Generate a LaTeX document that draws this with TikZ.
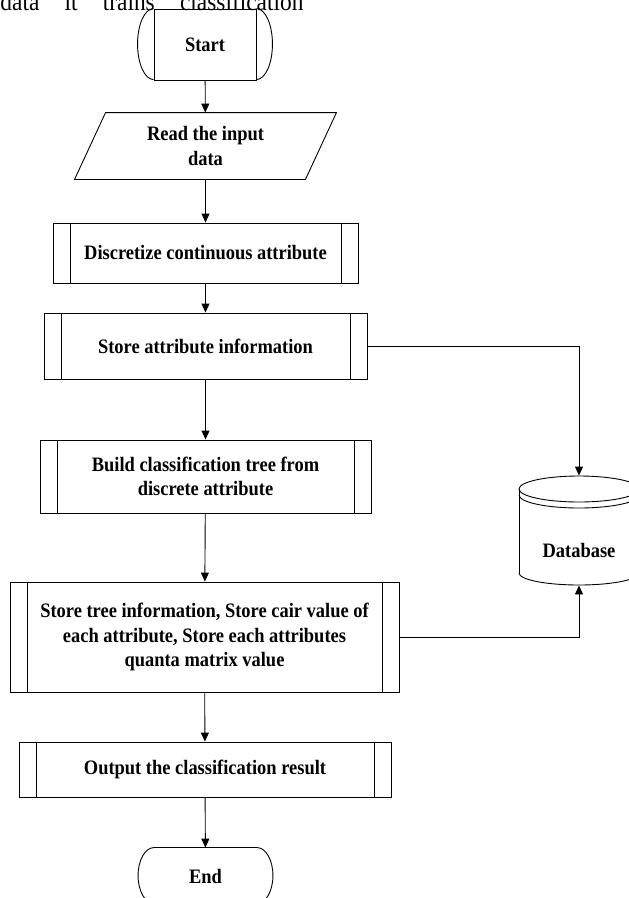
\documentclass[tikz,border=0pt]{standalone}
\usepackage{fontspec}
\setmainfont{Liberation Serif}[FakeStretch=0.9]
\usetikzlibrary{arrows.meta}

\begin{document}
\begin{tikzpicture}[x=1pt, y=-1pt, line width=0.9pt,
		every node/.style={font=\fontsize{20.5}{24.5}\selectfont\bfseries, align=center, inner sep=0pt},
		procbox/.style={draw, rectangle, path picture={
				\draw ([xshift=17pt]path picture bounding box.north west) -- ([xshift=17pt]path picture bounding box.south west);
				\draw ([xshift=-17pt]path picture bounding box.north east) -- ([xshift=-17pt]path picture bounding box.south east);}},
		term/.style={rectangle, minimum width=102pt, minimum height=71pt},
		arr/.style={-{Triangle[length=9pt,width=8pt]}}]
		\useasboundingbox (0,0) rectangle (629,898);
		\clip (0,0) rectangle (629,898);

		% line of text cut off above the chart
		\node[anchor=base west, font=\fontsize{26}{26}\selectfont] (caption) at (0,10.5) {\makebox[303pt][s]{data it trains classification}};

		\node[term, draw] (start) at (205,44.5) {Start};
		\node[minimum width=230pt, minimum height=66pt] (read) at (205.5,146) {Read the input\\data};
		\node[procbox, minimum width=305pt, minimum height=60pt] (disc) at (205.5,253) {Discretize continuous attribute};
		\node[procbox, minimum width=323pt, minimum height=66pt] (storeattr) at (205.5,346) {Store attribute information};
		\node[procbox, minimum width=331pt, minimum height=73pt] (build) at (205.5,476.5) {Build classification tree from\\discrete attribute};
		\node[procbox, minimum width=389pt, minimum height=110pt] (storetree) at (204.5,637) {Store tree information, Store cair value of\\each attribute, Store each attributes\\quanta matrix value};
		\node[procbox, minimum width=372pt, minimum height=55pt] (output) at (205,769.5) {Output the classification result};
		\node[term, minimum height=56pt] (end) at (205.5,876) {End};

		% database cylinder
		\node[minimum width=120pt, minimum height=109pt] (db) at (579,530.5) {};
		\node (dblabel) at (579,550) {Database};
		\draw (579,489) ellipse [x radius=60pt, y radius=13pt];
		\draw (519,495) arc[start angle=180, end angle=360, x radius=60pt, y radius=13pt];
		\draw (519,489) -- (519,573);
		\draw (639,489) -- (639,573);
		\draw (519,573) arc[start angle=180, end angle=360, x radius=60pt, y radius=12pt];

		% input box and terminal ends
		\draw ([xshift=-15.5pt]read.south west) -- ([xshift=15.5pt]read.north west) -- ([xshift=15.5pt]read.north east) -- ([xshift=-15.5pt]read.south east) -- cycle;
		\draw (end.north west) -- (end.north east);
		\draw (end.south west) -- (end.south east);
		\draw (start.north west) arc[start angle=90, end angle=270, x radius=16pt, y radius=35.5pt];
		\draw (start.north east) arc[start angle=90, end angle=-90, x radius=16pt, y radius=35.5pt];
		\draw (end.north west) arc[start angle=90, end angle=270, x radius=16pt, y radius=28pt];
		\draw (end.north east) arc[start angle=90, end angle=-90, x radius=16pt, y radius=28pt];

		\draw[arr] (start) -- (read);
		\draw[arr] (read) -- (disc);
		\draw[arr] (disc) -- (storeattr);
		\draw[arr] (storeattr) -- (build);
		\draw[arr] (build) -- (storetree);
		\draw[arr] (storetree) -- (output);
		\draw[arr] (output) -- (end);
		\draw[arr] (storeattr.east) -| (db.north);
		\draw[arr] (storetree.east) -| (db.south);
	\end{tikzpicture}
\end{document}
